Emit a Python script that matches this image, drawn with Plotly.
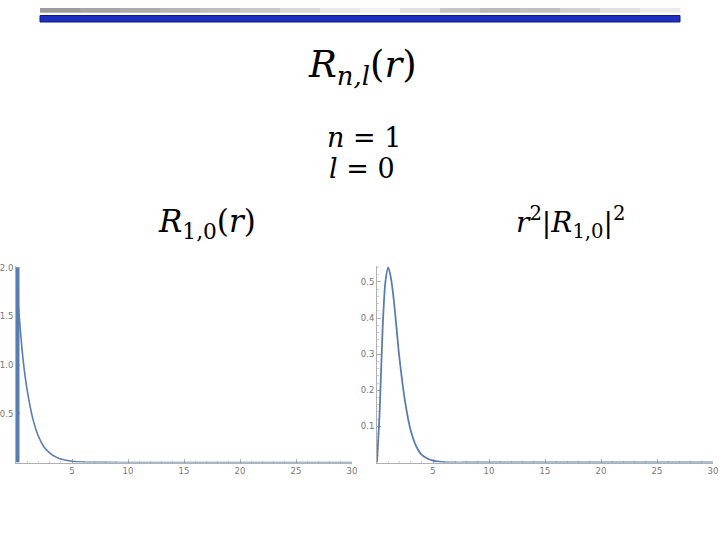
import plotly.graph_objects as go
from plotly.subplots import make_subplots

# radial function R_{1,0}(r)
r_left = [0, 0.25, 0.5, 0.75, 1, 1.5, 2, 2.5, 3, 3.5, 4, 5, 6, 7, 8, 10, 15, 20, 25, 30]
R10 = [2.0, 1.56, 1.21, 0.94, 0.74, 0.45, 0.27, 0.16, 0.10, 0.06, 0.037,
       0.013, 0.005, 0.002, 0.001, 0, 0, 0, 0, 0]

# thick vertical stroke at r = 0 on the left panel
bar_r = [0, 0]
bar_vals = [0, 2.0]

# r^2 |R_{1,0}|^2, values
r_right = [0, 0.25, 0.5, 0.75, 1, 1.25, 1.5, 1.75, 2, 2.5, 3, 3.5, 4, 5, 6, 7, 8, 10, 15, 20, 25, 30]
P10 = [0, 0.15, 0.37, 0.50, 0.54, 0.51, 0.45, 0.37, 0.29, 0.17, 0.09, 0.045,
       0.021, 0.005, 0.001, 0, 0, 0, 0, 0, 0, 0]

x_ticks = [5, 10, 15, 20, 25, 30]
left_y_ticks = [0.5, 1.0, 1.5, 2.0]
right_y_ticks = [0.1, 0.2, 0.3, 0.4, 0.5]

line_color = "#5a7db0"
axis_color = "#b0b0b0"
tick_font = dict(family="DejaVu Sans", size=8.5, color="#777777")
serif = "DejaVu Serif"

fig = make_subplots(rows=1, cols=2)

fig.add_trace(go.Scatter(x=bar_r, y=bar_vals, mode="lines",
                         line=dict(color=line_color, width=7)), row=1, col=1)
fig.add_trace(go.Scatter(x=r_left, y=R10, mode="lines",
                         line=dict(color=line_color, width=1.6, shape="spline", smoothing=0.8)),
              row=1, col=1)
fig.add_trace(go.Scatter(x=r_right, y=P10, mode="lines",
                         line=dict(color=line_color, width=1.8, shape="spline", smoothing=0.8)),
              row=1, col=2)

axis_common = dict(showgrid=False, zeroline=False, showline=True, linecolor=axis_color,
                   linewidth=1, ticks="inside", ticklen=4, tickcolor=axis_color,
                   tickfont=tick_font, automargin=False, layer="below traces")

fig.update_xaxes(axis_common, range=[0, 30], tickvals=x_ticks,
                 minor=dict(ticks="inside", ticklen=2, dtick=1, tickcolor="#d0d0d0"))
fig.update_xaxes(domain=[16 / 720, 352 / 720], row=1, col=1)
fig.update_xaxes(domain=[377 / 720, 713 / 720], row=1, col=2)

fig.update_yaxes(axis_common, tickformat=".1f")
fig.update_yaxes(domain=[0.1435, 0.508], range=[0, 2.02], tickvals=left_y_ticks,
                 minor=dict(ticks="inside", ticklen=2, dtick=0.1, tickcolor="#d0d0d0"),
                 row=1, col=1)
fig.update_yaxes(domain=[0.1435, 0.508], range=[0, 0.545], tickvals=right_y_ticks,
                 minor=dict(ticks="inside", ticklen=2, dtick=0.02, tickcolor="#d0d0d0"),
                 row=1, col=2)

# decorative header bars of the slide
gray_steps = ["#9c9c9c", "#a4a4a4", "#acacac", "#b4b4b4", "#bcbcbc", "#c8c8c8", "#d8d8d8", "#e8e8e8",
              "#f0f0f0", "#e0e0e0", "#c4c4c4", "#b8b8b8", "#c0c0c0", "#d0d0d0", "#e0e0e0", "#ececec"]
x0 = 40
seg = (680 - 40) / len(gray_steps)
for i, c in enumerate(gray_steps):
    fig.add_shape(type="rect", xref="paper", yref="paper",
                  x0=(x0 + i * seg) / 720, x1=(x0 + (i + 1) * seg + 0.5) / 720,
                  y0=1 - 12.7 / 540, y1=1 - 8 / 540, fillcolor=c, line_width=0, layer="below")
fig.add_shape(type="rect", xref="paper", yref="paper", x0=40 / 720, x1=680 / 720,
              y0=1 - 22 / 540, y1=1 - 15.5 / 540, fillcolor="#1e2fc0",
              line=dict(color="#101a80", width=1), layer="below")

texts = [
    ("<i>R</i><sub><i>n,l</i></sub>(<i>r</i>)", 362, 67, 37),
    ("<i>n</i> = 1", 364, 137, 27),
    ("<i>l</i> = 0", 362, 168, 27),
    ("<i>R</i><sub>1,0</sub>(<i>r</i>)", 207, 224, 31),
    ("<i>r</i><sup>2</sup>|<i>R</i><sub>1,0</sub>|<sup>2</sup>", 570, 222, 28),
]
for txt, px_x, px_y, size in texts:
    fig.add_annotation(text=txt, xref="paper", yref="paper", x=px_x / 720, y=1 - px_y / 540,
                       xanchor="center", yanchor="middle", showarrow=False,
                       font=dict(family=serif, size=size, color="black"))

fig.update_layout(width=720, height=540, margin=dict(l=0, r=0, t=0, b=0),
                  paper_bgcolor="white", plot_bgcolor="white", showlegend=False)

fig.write_html("out.html", config={"displayModeBar": False},
               post_script="document.body.style.margin = '0';")
